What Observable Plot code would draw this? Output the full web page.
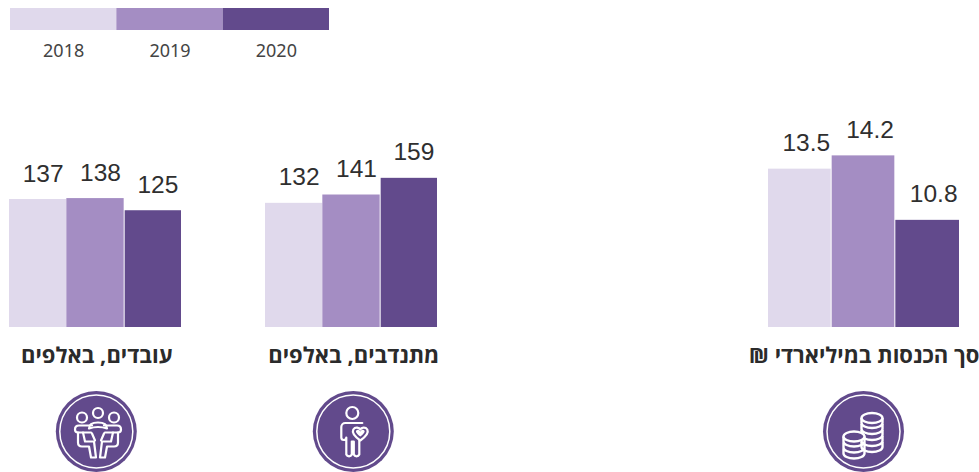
<!DOCTYPE html>
<html lang="he">
<head>
<meta charset="utf-8">
<script src="https://cdn.jsdelivr.net/npm/d3@7"></script>
<script src="https://cdn.jsdelivr.net/npm/@observablehq/plot@0.6"></script>
<style>
html,body{margin:0;padding:0;background:#fff;overflow:hidden}
#chart{position:relative;width:979px;height:472px;overflow:hidden}
#chart>svg{position:absolute;display:block;background:transparent}
</style>
</head>
<body>
<div id="chart"></div>
<script>
const years = ["2018", "2019", "2020"];
const colors = ["#e0d9ec", "#a48dc3", "#624a8c"];
const labelWorkers = "עובדים, באלפים";
const labelVolunteers = "מתנדבים, באלפים";
const labelIncome = "סך הכנסות במיליארדי ₪";
const workers = [137, 138, 125];
const volunteers = [132, 141, 159];
const income = [13.5, 14.2, 10.8];

const root = document.getElementById("chart");
const place = (el, left, top) => { el.style.left = left + "px"; el.style.top = top + "px"; root.appendChild(el); };

const colorScale = {domain: years, range: colors};

// Legend
place(Plot.plot({
  width: 340, height: 70,
  marginLeft: 10, marginRight: 11, marginTop: 8, marginBottom: 40,
  style: {background: "transparent"},
  x: {domain: years, padding: 0, round: false},
  color: colorScale,
  marks: [
    Plot.cell(years, {x: d => d, fill: d => d}),
    Plot.axisX({tickSize: 0, tickPadding: 14, fontSize: 18, label: null,
      fontFamily: "'Noto Sans', sans-serif", color: "#444"})
  ]
}), 0, 0);

// Icons, drawn around (0,0)
function iconCoins(g) {
  const stack = (cx, top, n) => {
    const s = g.append("g").attr("transform", `translate(${cx},${top})`);
    for (let i = n; i >= 1; i--) {
      s.append("path").attr("d", `M-10.5,${i * 6 - 6} V${i * 6 - 1} A10.5,5 0 0 0 10.5,${i * 6 - 1} V${i * 6 - 6}`)
        .attr("fill", "none").attr("stroke", "#fff").attr("stroke-width", 2.4);
    }
    s.append("ellipse").attr("rx", 10.5).attr("ry", 5).attr("fill", "#624a8c").attr("stroke", "#fff").attr("stroke-width", 2.4);
  };
  stack(8.5, -13.5, 5);
  stack(-9.5, 5, 3);
}
function iconPerson(g) {
  const line = {fill: "none", stroke: "#fff", "stroke-width": 2.2, "stroke-linejoin": "round", "stroke-linecap": "round"};
  const add = (tag, attrs) => { const e = g.append(tag); for (const k in {...line, ...attrs}) e.attr(k, {...line, ...attrs}[k]); };
  add("circle", {cx: -1, cy: -18.5, r: 6});
  add("path", {d: "M9,-8.5 H-8 a4,4 0 0 0 -4,4 V6 a2.5,2.5 0 0 0 5,0 V23 a3,3 0 0 0 5.5,0 V10 h2 V23 a3,3 0 0 0 5.5,0 V9"});
  add("path", {fill: "#624a8c", d: "M7,9 C0,4 -1,0 0,-2 C2,-5 6,-4 7,-2 C8,-4 12,-5 14,-2 C15,0 14,4 7,9 Z"});
  add("path", {fill: "#fff", d: "M7,5 C3,2 2,0 3,-1 C4,-2.5 6,-2 7,0 C8,-2 10,-2.5 11,-1 C12,0 11,2 7,5 Z", "stroke-width": 0});
}
function iconPeople(g) {
  const line = {fill: "none", stroke: "#fff", "stroke-width": 2.2, "stroke-linejoin": "round", "stroke-linecap": "round"};
  const add = (p, tag, attrs) => { const e = p.append(tag); for (const k in {...line, ...attrs}) e.attr(k, {...line, ...attrs}[k]); };
  const m = g.append("g").attr("transform", "translate(1.7,0)");
  add(m, "circle", {cx: 0, cy: -18.5, r: 5});
  add(m, "circle", {cx: -16, cy: -14, r: 5});
  add(m, "circle", {cx: 16, cy: -14, r: 5});
  add(m, "path", {d: "M-9,-3 Q-9,-9 0,-9 Q9,-9 9,-3 Q0,-6 -9,-3 Z"});
  for (const side of [1, -1]) {
    const s = m.append("g").attr("transform", `scale(${side},1)`);
    add(s, "path", {d: "M-6,-6 H-19 Q-23,-6 -23,-2 Q-23,1 -20,1 H-7"});
    add(s, "path", {d: "M-20,1 V11 Q-20,15 -16,15 H-9 L-7,26 H-2 L-4,10 H-13 L-15,1"});
    add(s, "path", {d: "M-6,2 L-3,9"});
  }
}

// One panel of three adjacent bars
function panel({values, label, yDomain, left, width, barLeft, barRight, gap, textDx, labelDx, icon}) {
  const rows = years.map((year, i) => ({year, value: values[i]}));
  const top = 70;
  const marginLeft = barLeft - left, marginRight = left + width - barRight;
  const plot = Plot.plot({
    width, height: 402,
    marginLeft, marginRight, marginTop: 30, marginBottom: 145,
    style: {background: "transparent", direction: "rtl"},
    x: {domain: years, padding: 0, axis: null, round: false},
    y: {domain: yDomain, axis: null},
    color: colorScale,
    marks: [
      Plot.barY(rows, {x: "year", y: "value", y1: yDomain[0], fill: "year", insetRight: gap.right,
        filter: d => d.year !== "2020"}),
      Plot.barY(rows, {x: "year", y: "value", y1: yDomain[0], fill: "year", insetLeft: gap.left,
        filter: d => d.year === "2020"}),
      Plot.text(rows, {x: "year", y: "value", text: d => String(d.value), dx: textDx, dy: -18,
        lineAnchor: "bottom", fontSize: 24.5, fill: "#2f2f2f", fontFamily: "'Liberation Sans', Arial, sans-serif"}),
      Plot.text([label], {frameAnchor: "bottom", text: d => d, dx: labelDx, dy: 35.5, lineAnchor: "bottom",
        fontSize: 22, fontWeight: 700, fill: "#2b2b2b", fontFamily: "'Open Sans', 'Liberation Sans', sans-serif"}),
      (index, scales, values, dim) => {
        const cx = (dim.marginLeft + dim.width - dim.marginRight) / 2 + labelDx;
        const g = d3.create("svg:g").attr("transform", `translate(${cx},${431.5 - top})`);
        g.append("circle").attr("r", 40.5).attr("fill", "#624a8c");
        g.append("circle").attr("r", 36.5).attr("fill", "none").attr("stroke", "#fff").attr("stroke-width", 1.5);
        icon(g);
        return g.node();
      }
    ]
  });
  place(plot, left, top);
}

panel({values: workers, label: labelWorkers, yDomain: [0, 243], left: 0, width: 210, barLeft: 9, barRight: 181,
  gap: {right: 0, left: 1}, textDx: 5, labelDx: 1.3, icon: iconPeople});
panel({values: volunteers, label: labelVolunteers, yDomain: [-2, 243], left: 240, width: 220, barLeft: 265, barRight: 437,
  gap: {right: 0, left: 1}, textDx: 5, labelDx: 2.3, icon: iconPerson});
panel({values: income, label: labelIncome, yDomain: [5.15, 17.12], left: 720, width: 259, barLeft: 768, barRight: 959,
  gap: {right: 1, left: 0}, textDx: 6, labelDx: 0, icon: iconCoins});
</script>
</body>
</html>
